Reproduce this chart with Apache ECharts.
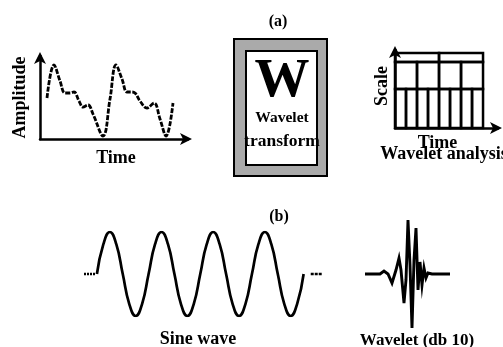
<!DOCTYPE html>
<html>
<head>
<meta charset="utf-8">
<script src="https://cdn.jsdelivr.net/npm/echarts@6/dist/echarts.min.js"></script>
<style>
  html, body { margin: 0; padding: 0; background: #fff; }
  #chart { width: 503px; height: 347px; }
</style>
</head>
<body>
<div id="chart"></div>
<script>
// Panel (a), left: an arbitrary signal, amplitude against time
const signalTime = [7, 14, 20, 25, 30, 34, 39, 43, 48, 53, 63, 70, 76, 82, 87, 91, 95, 100, 107, 114, 120, 126, 133];
const signalAmp  = [41, 74, 58, 46, 46, 47, 38, 32, 34, 25, 3, 40, 74, 60, 47, 47, 46, 38, 31, 36, 20, 3, 36];

// Panel (a), right: time-scale tiling of the wavelet analysis
const scaleRowBounds = [0, 1, 1.69, 1.92];
const cellsPerRow = [8, 4, 2];
const tilingSpan = 8;

// Panel (b): sine wave sampled every eighth of a period, four periods
const sineValues = [0, 0.71, 1, 0.71, 0, -0.71, -1, -0.71,
                    0, 0.71, 1, 0.71, 0, -0.71, -1, -0.71,
                    0, 0.71, 1, 0.71, 0, -0.71, -1, -0.71,
                    0, 0.71, 1, 0.71, 0, -0.71, -1, -0.71, 0];
const sineLeadIn = [[-2, 0], [-0.3, 0]];
const sineLeadOut = [[33.1, 0], [34.8, 0]];

// Panel (b): Daubechies 10 wavelet trace
const waveletTime = [0, 15, 19, 23, 27, 31, 34, 36, 39, 41, 43, 45, 47, 49, 51, 53, 55, 57, 59, 61, 63, 67, 85];
const waveletAmp  = [0, 0, 3, 0, -9, 4, 16, 4, -29, -6, 54, 9, -54, 14, 46, -16, 12, -11, 6, -4, 1, 0, 0];

const serif = 'Liberation Serif';
const ink = '#000';

// bold serif label style
const labelFont = (size, extra) => Object.assign({
  fontFamily: serif, fontSize: size, fontWeight: 'bold', color: ink
}, extra);

function zip(a, b) { return a.map((v, i) => [v, b[i]]); }

// build the tiling cells from the row boundaries
const tilingCells = [];
cellsPerRow.forEach((n, r) => {
  const w = tilingSpan / n;
  for (let i = 0; i < n; i++) {
    tilingCells.push([i * w, (i + 1) * w, scaleRowBounds[r], scaleRowBounds[r + 1]]);
  }
});

const arrowAxis = (extra) => Object.assign({
  type: 'value',
  axisLine: { show: true, symbol: ['none', 'arrow'], symbolSize: [9, 12], symbolOffset: [0, 4],
              lineStyle: { color: ink, width: 2.5 } },
  axisTick: { show: false },
  axisLabel: { show: false },
  splitLine: { show: false },
  nameTextStyle: labelFont(18)
}, extra);

const hiddenAxis = (extra) => Object.assign({
  type: 'value', show: false, splitLine: { show: false }
}, extra);

const chart = echarts.init(document.getElementById('chart'), null, { renderer: 'canvas' });

chart.setOption({
  animation: false,
  backgroundColor: '#fff',
  grid: [
    { left: 40, top: 56, width: 148, height: 83 },
    { left: 395, top: 50, width: 103, height: 78 },
    { left: 84, top: 232, width: 239, height: 84 },
    { left: 365, top: 214, width: 85, height: 120 }
  ],
  xAxis: [
    arrowAxis({ gridIndex: 0, min: 0, max: 148, name: 'Time', nameLocation: 'middle', nameGap: 10,
                nameTextStyle: labelFont(18, { padding: [0, 0, 0, 4] }) }),
    arrowAxis({ gridIndex: 1, min: 0, max: 9.36, name: 'Time', nameLocation: 'middle', nameGap: 6,
                nameTextStyle: labelFont(18, { padding: [0, 18, 0, 0] }) }),
    hiddenAxis({ gridIndex: 2, min: -2, max: 35 }),
    hiddenAxis({ gridIndex: 3, min: 0, max: 85 })
  ],
  yAxis: [
    arrowAxis({ gridIndex: 0, min: 0, max: 83, name: 'Amplitude', nameLocation: 'middle', nameGap: 11, nameRotate: 90 }),
    arrowAxis({ gridIndex: 1, min: 0, max: 2, name: 'Scale', nameLocation: 'middle', nameGap: 4, nameRotate: 90,
                nameTextStyle: labelFont(18, { padding: [0, 0, 0, 6] }) }),
    hiddenAxis({ gridIndex: 2, min: -1, max: 1 }),
    hiddenAxis({ gridIndex: 3, min: -60, max: 60 })
  ],
  title: [
    { text: '(a)', left: 273, top: 9, textAlign: 'center', textStyle: labelFont(16) },
    { text: '(b)', left: 274, top: 204, textAlign: 'center', textStyle: labelFont(16) },
    { text: 'Wavelet analysis', left: 439, top: 140, textAlign: 'center', textStyle: labelFont(18) },
    { text: 'Sine wave', left: 193, top: 325, textAlign: 'center', textStyle: labelFont(18) },
    { text: 'Wavelet (db 10)', left: 412, top: 327, textAlign: 'center', textStyle: labelFont(17) }
  ],
  graphic: [
    { type: 'rect', shape: { x: 234, y: 39, width: 93, height: 137 },
      style: { fill: '#aaaaaa', stroke: ink, lineWidth: 2 } },
    { type: 'rect', shape: { x: 246, y: 51, width: 71, height: 114 },
      style: { fill: '#fff', stroke: ink, lineWidth: 2 } },
    { type: 'text', x: 282, y: 82,
      style: { text: 'W', fontFamily: serif, fontSize: 55, fontWeight: 'bold', fill: ink,
               align: 'center', verticalAlign: 'middle' } },
    { type: 'text', x: 282, y: 118,
      style: { text: 'Wavelet', fontFamily: serif, fontSize: 15.5, fontWeight: 'bold', fill: ink,
               align: 'center', verticalAlign: 'middle' } },
    { type: 'text', x: 282, y: 141,
      style: { text: 'transform', fontFamily: serif, fontSize: 17.5, fontWeight: 'bold', fill: ink,
               align: 'center', verticalAlign: 'middle' } }
  ],
  series: [
    {
      type: 'line', xAxisIndex: 0, yAxisIndex: 0,
      data: zip(signalTime, signalAmp), smooth: 0.4, symbol: 'none',
      lineStyle: { color: ink, width: 2.8, type: [5, 1.5] }
    },
    {
      type: 'custom', xAxisIndex: 1, yAxisIndex: 1,
      data: tilingCells,
      renderItem: (params, api) => {
        const p0 = api.coord([api.value(0), api.value(3)]);
        const p1 = api.coord([api.value(1), api.value(2)]);
        return {
          type: 'rect',
          shape: { x: p0[0], y: p0[1], width: p1[0] - p0[0], height: p1[1] - p0[1] },
          style: { fill: 'none', stroke: ink, lineWidth: 2.5 }
        };
      }
    },
    {
      type: 'line', xAxisIndex: 2, yAxisIndex: 2,
      data: sineValues.map((v, i) => [i, v]), smooth: 0.5, symbol: 'none',
      lineStyle: { color: ink, width: 2.7 }
    },
    {
      type: 'line', xAxisIndex: 2, yAxisIndex: 2, data: sineLeadIn, symbol: 'none',
      lineStyle: { color: ink, width: 2.5, type: [2, 1] }
    },
    {
      type: 'line', xAxisIndex: 2, yAxisIndex: 2, data: sineLeadOut, symbol: 'none',
      lineStyle: { color: ink, width: 2.5, type: [3, 1] }
    },
    {
      type: 'line', xAxisIndex: 3, yAxisIndex: 3,
      data: zip(waveletTime, waveletAmp), symbol: 'none',
      lineStyle: { color: ink, width: 2.9, join: 'miter' }
    }
  ]
});
</script>
</body>
</html>
